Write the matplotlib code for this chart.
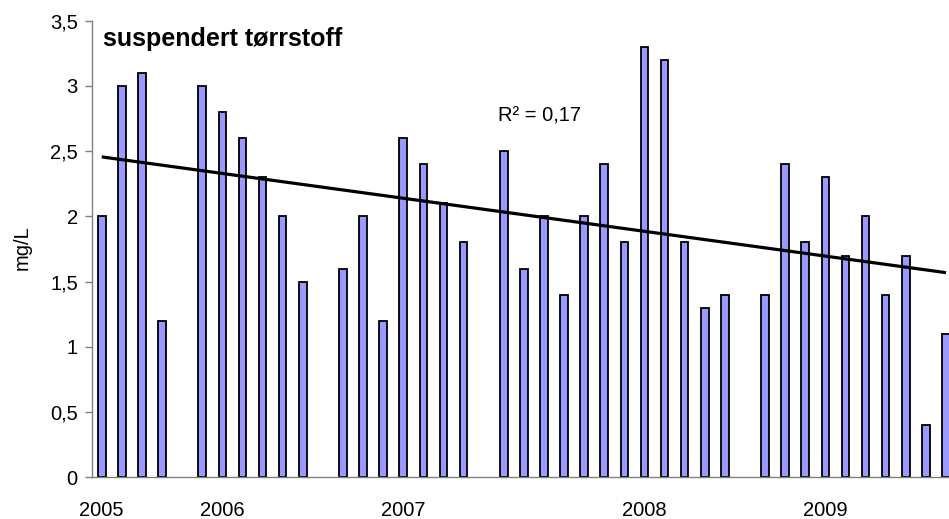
import numpy as np
import matplotlib
matplotlib.use("Agg")
import matplotlib.pyplot as plt

plt.rcParams['font.family'] = ['Liberation Sans', 'DejaVu Sans']

# Sampling sequence (category index); NaN = no sample
values = [2.0, 3.0, 3.1, 1.2, np.nan, 3.0, 2.8, 2.6, 2.3, 2.0, 1.5, np.nan,
          1.6, 2.0, 1.2, 2.6, 2.4, 2.1, 1.8, np.nan, 2.5, 1.6, 2.0, 1.4,
          2.0, 2.4, 1.8, 3.3, 3.2, 1.8, 1.3, 1.4, np.nan, 1.4, 2.4, 1.8,
          2.3, 1.7, 2.0, 1.4, 1.7, 0.4, 1.1]
year_labels = ["2005", "2006", "2007", "2008", "2009"]
year_label_idx = [0, 6, 15, 27, 36]
yticks = [0, 0.5, 1, 1.5, 2, 2.5, 3, 3.5]
ytick_labels = ["0", "0,5", "1", "1,5", "2", "2,5", "3", "3,5"]
title = "suspendert tørrstoff"
r2_text = "R² = 0,17"

W, H = 949, 519
fig = plt.figure(figsize=(W / 100, H / 100), dpi=100)
# axes: left 91.7 px, right 956 px, top 20.7 px, bottom 477.3 px
x0, x1, yt, yb = 91.7, 956.0, 20.7, 477.3
ax = fig.add_axes([x0 / W, 1 - yb / H, (x1 - x0) / W, (yb - yt) / H])

vals = np.array(values, dtype=float)
x = np.arange(len(vals))
mask = ~np.isnan(vals)
ax.bar(x[mask], vals[mask], width=0.38, color='#9999FF', edgecolor='black',
       linewidth=1.3, zorder=2)

# linear trend (Excel style: fit over category index)
coef = np.polyfit(x[mask], vals[mask], 1)
xt = np.array([x[0], x[-1]])
ax.plot(xt, np.polyval(coef, xt), color='black', lw=2.3, zorder=3,
        solid_capstyle='butt')

ax.set_xlim(-0.5, len(vals) - 0.5)
ax.set_ylim(0, 3.5)
ax.set_yticks(yticks)
ax.set_yticklabels(ytick_labels, fontsize=14.5)
ax.set_xticks(year_label_idx)
ax.set_xticklabels(year_labels, fontsize=14.5)
ax.tick_params(axis='x', length=0, pad=17)
ax.tick_params(axis='y', length=5, width=1, color='#808080', pad=5)

for s in ['top', 'right']:
    ax.spines[s].set_visible(False)
for s in ['left', 'bottom']:
    ax.spines[s].set_color('#808080')
    ax.spines[s].set_linewidth(1)

fig.text(22 / W, 1 - 248 / H, "mg/L", fontsize=14.5, rotation=90,
         ha='center', va='center')

fig.text(103 / W, 1 - 46 / H, title, fontsize=18, fontweight='bold',
         ha='left', va='baseline')
fig.text(498 / W, 1 - 121 / H, r2_text, fontsize=14.5, ha='left', va='baseline')

fig.savefig("out.png", dpi=100)
